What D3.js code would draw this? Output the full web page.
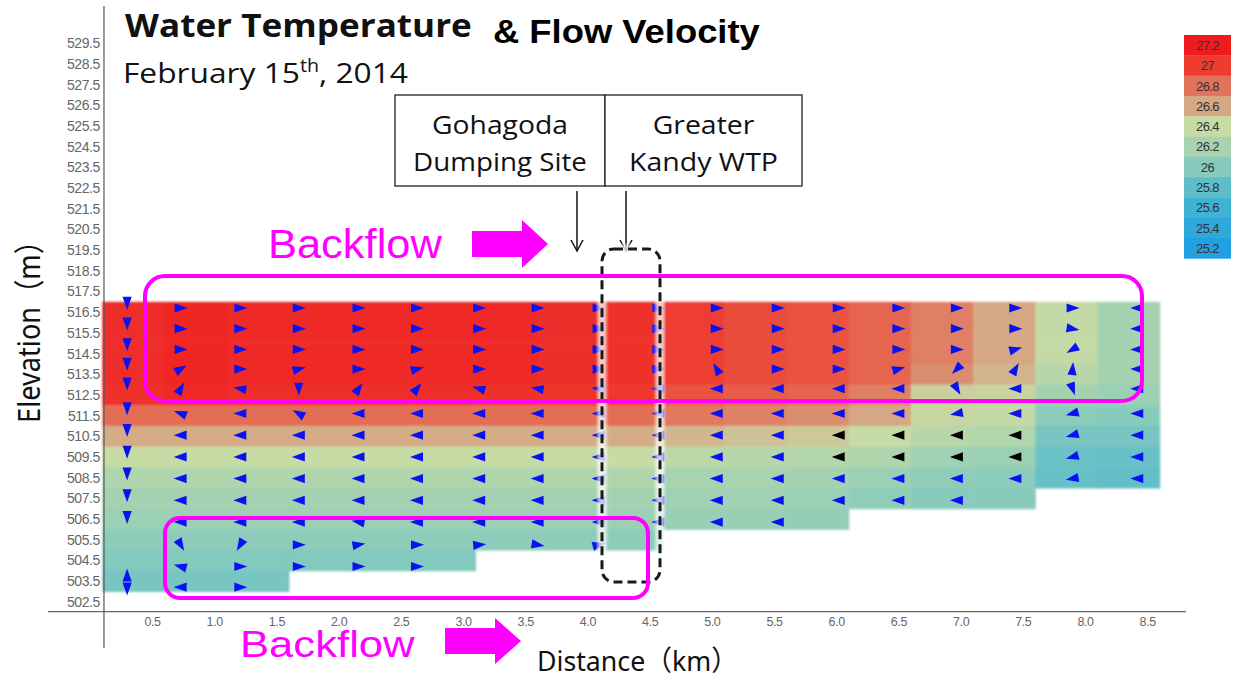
<!DOCTYPE html>
<html><head><meta charset="utf-8">
<script src="https://cdn.jsdelivr.net/npm/d3@7"></script>
<style>
html,body{margin:0;padding:0;background:#fff;}
svg{display:block;}
</style></head><body>
<svg id="chart" width="1233" height="679"></svg>
<script>
// Temperature legend stops (°C) and colours
const legendValues = [27.2, 27.0, 26.8, 26.6, 26.4, 26.2, 26.0, 25.8, 25.6, 25.4, 25.2];
const legendColors = ["#ef1b1f","#ee3d30","#e2735a","#d5a784","#c7dba5","#a7d3af","#88cbbc","#5fbdca","#40b3d5","#2fa9dc","#21a1e2"];

// Cross-section grid: 0.5 km columns starting at these distances, 1 m rows (top elevation)
const colStartKm = [0.1,0.6,1.1,1.6,2.1,2.6,3.1,3.6,4.1,4.6,5.1,5.6,6.1,6.6,7.1,7.6,8.1];
const rowTopElev = [517,516,515,514,513,512,511,510,509,508,507,506,505,504];

// Water temperature per cell (rows top→bottom, columns upstream→downstream); null = river bed
const temperature = [
  [27.08,27.14,27.10,27.10,27.10,27.10,27.10,27.08,27.06,27.00,26.95,26.92,26.85,26.75,26.60,26.38,26.18],
  [27.08,27.14,27.10,27.10,27.10,27.10,27.10,27.08,27.06,27.00,26.95,26.92,26.85,26.75,26.60,26.38,26.18],
  [27.08,27.14,27.10,27.10,27.10,27.10,27.10,27.08,27.06,27.00,26.95,26.92,26.85,26.75,26.60,26.38,26.18],
  [27.08,27.14,27.10,27.10,27.10,27.10,27.10,27.08,27.06,27.00,26.95,26.92,26.85,26.70,26.55,26.30,26.18],
  [27.06,27.10,27.08,27.08,27.08,27.08,27.06,27.05,27.03,26.92,26.88,26.85,26.75,26.45,26.43,26.18,26.12],
  [26.82,26.82,26.82,26.82,26.82,26.82,26.82,26.82,26.82,26.78,26.74,26.70,26.60,26.42,26.38,26.02,26.00],
  [26.58,26.58,26.58,26.58,26.58,26.58,26.58,26.58,26.58,26.54,26.50,26.47,26.40,26.30,26.27,25.92,25.92],
  [26.40,26.40,26.40,26.40,26.40,26.40,26.40,26.40,26.40,26.33,26.30,26.28,26.25,26.15,26.12,25.86,25.84],
  [26.25,26.25,26.25,26.25,26.25,26.25,26.25,26.25,26.25,26.20,26.20,26.18,26.12,26.05,26.02,25.84,25.82],
  [26.18,26.18,26.18,26.18,26.18,26.18,26.18,26.18,26.18,26.15,26.15,26.13,26.05,26.00,26.00,null,null],
  [26.12,26.12,26.12,26.12,26.12,26.12,26.12,26.12,26.12,26.10,26.10,26.08,null,null,null,null,null],
  [26.03,26.03,26.03,26.03,26.03,26.03,26.03,26.03,26.03,null,null,null,null,null,null,null,null],
  [25.97,25.97,25.97,25.97,25.97,25.97,null,null,null,null,null,null,null,null,null,null,null],
  [25.92,25.92,25.92,null,null,null,null,null,null,null,null,null,null,null,null,null,null]
];

// Velocity sampling nodes
const arrowKm = [0.30,0.73,1.21,1.68,2.16,2.63,3.13,3.60,4.09,4.57,5.04,5.53,6.02,6.50,6.97,7.44,7.90,8.42];
const arrowElev = [516.7,515.7,514.7,513.75,512.8,511.6,510.55,509.5,508.45,507.4,506.35,505.25,504.2,503.2];
// The near-bank profile is sampled a little higher than the rest
const bankElevShift = 0.25;
// Flow direction at each node, degrees clockwise from downstream; null = no vector, "ud" = up/down pair
const arrowAngle = [
  [90,0,0,0,0,0,0,0,0,0,0,0,0,0,0,0,0,180],
  [90,0,0,0,0,0,0,0,0,0,0,0,0,0,0,0,10,180],
  [90,0,0,0,0,0,0,0,0,0,0,0,0,0,0,345,150,180],
  [90,330,0,345,0,345,0,0,0,0,240,0,0,345,135,300,275,180],
  [90,300,190,90,305,310,195,190,185,180,180,180,180,180,60,180,70,180],
  [90,200,180,210,180,180,180,180,180,180,180,180,180,180,170,180,165,180],
  [90,180,180,180,180,180,180,180,180,180,180,180,180,180,180,180,165,180],
  [90,180,180,180,180,180,180,180,180,180,180,180,180,180,180,180,165,180],
  [90,180,180,180,180,180,180,180,180,180,180,180,180,180,180,180,170,180],
  [90,180,180,180,180,180,180,180,180,180,180,180,180,180,180,null,null,null],
  [90,180,180,180,190,180,180,180,180,180,180,180,null,null,null,null,null,null],
  [null,60,120,0,350,0,355,10,345,null,null,null,null,null,null,null,null,null],
  [null,195,0,0,0,0,null,null,null,null,null,null,null,null,null,null,null,null],
  ["ud",180,0,null,null,null,null,null,null,null,null,null,null,null,null,null,null,null]
];
// Nodes drawn in black [column, row]
const blackArrows = [[12,6],[13,6],[14,6],[15,6],[12,7],[13,7],[14,7],[15,7]];

const yTicks = [502.5,503.5,504.5,505.5,506.5,507.5,508.5,509.5,510.5,511.5,512.5,513.5,514.5,515.5,516.5,517.5,518.5,519.5,520.5,521.5,522.5,523.5,524.5,525.5,526.5,527.5,528.5,529.5];
const xTicks = [0.5,1.0,1.5,2.0,2.5,3.0,3.5,4.0,4.5,5.0,5.5,6.0,6.5,7.0,7.5,8.0,8.5];

const svg = d3.select("#chart");
const x = d3.scaleLinear().domain([0, 9]).range([89.8, 1209.4]);
const y = d3.scaleLinear().domain([502, 530]).range([612, 33]);
const color = d3.scaleLinear().domain(legendValues).range(legendColors).clamp(true);

const defs = svg.append("defs");
defs.append("filter").attr("id", "soft").attr("x", "-2%").attr("y", "-2%").attr("width", "104%").attr("height", "104%")
  .append("feGaussianBlur").attr("stdDeviation", 0.9);
defs.append("filter").attr("id", "halo")
  .append("feGaussianBlur").attr("stdDeviation", 1.6);

// Temperature cells
const cells = [];
temperature.forEach((row, r) => row.forEach((t, c) => {
  if (t !== null) cells.push({ c, r, t });
}));
svg.append("g").attr("filter", "url(#soft)")
  .selectAll("rect").data(cells).join("rect")
  .attr("x", d => x(colStartKm[d.c]))
  .attr("width", d => x(colStartKm[d.c] + 0.5) - x(colStartKm[d.c]) + 0.6)
  .attr("y", d => y(rowTopElev[d.r]))
  .attr("height", d => y(rowTopElev[d.r] - 1) - y(rowTopElev[d.r]) + 0.6)
  .attr("fill", d => color(d.t));

// Axes
const gy = svg.append("g").attr("transform", `translate(${x(0.114)},0)`)
  .call(d3.axisLeft(y).tickValues(yTicks).tickSize(0).tickPadding(4).tickFormat(d3.format(".1f")));
gy.select(".domain").remove();
gy.selectAll("text").attr("font-family", "Liberation Sans, Arial, sans-serif").attr("font-size", 14)
  .attr("fill", "#666").attr("letter-spacing", "-0.4");

const gx = svg.append("g").attr("transform", `translate(0,${y(502.02)})`)
  .call(d3.axisBottom(x).tickValues(xTicks).tickSize(0).tickPadding(6).tickFormat(d3.format(".1f")));
gx.select(".domain").remove();
gx.selectAll("text").attr("font-family", "Liberation Sans, Arial, sans-serif").attr("font-size", 12.5)
  .attr("fill", "#666").attr("letter-spacing", "-0.4");

svg.append("line").attr("x1", x(0.114)).attr("x2", x(0.114)).attr("y1", 6).attr("y2", 648)
  .attr("stroke", "#555").attr("stroke-width", 1.2);
svg.append("line").attr("x1", 48).attr("x2", 1186).attr("y1", y(502.02)).attr("y2", y(502.02))
  .attr("stroke", "#666").attr("stroke-width", 1.2);

// Velocity vectors
const black = new Set(blackArrows.map(d => d[0] + "," + d[1]));
const tri = "M7,0 L-6,-4.6 L-6,4.6 Z";
const arrows = [];
arrowAngle.forEach((row, r) => row.forEach((a, c) => {
  if (a === null) return;
  if (a === "ud") {
    arrows.push({ c, r, a: 270, dy: -6.5 });
    arrows.push({ c, r, a: 90, dy: 6.5 });
  } else arrows.push({ c, r, a, dy: 0 });
}));
svg.append("g").selectAll("path").data(arrows).join("path")
  .attr("d", tri)
  .attr("transform", d => {
    const e = arrowElev[d.r] + (d.c === 0 ? bankElevShift : 0);
    return `translate(${x(arrowKm[d.c])},${y(e) + d.dy}) rotate(${d.a})`;
  })
  .attr("fill", d => black.has(d.c + "," + d.r) ? "#000" : "#0b12f2");

// Legend
const lg = svg.append("g").attr("transform", "translate(1184,35)");
const lh = 20.3;
lg.selectAll("rect").data(legendValues).join("rect")
  .attr("x", 0).attr("y", (d, i) => i * lh).attr("width", 47).attr("height", lh + 0.4)
  .attr("fill", (d, i) => legendColors[i]);
lg.selectAll("text").data(legendValues).join("text")
  .attr("x", 23.5).attr("y", (d, i) => i * lh + lh / 2 + 4.8)
  .attr("text-anchor", "middle").attr("font-family", "Liberation Sans, Arial, sans-serif")
  .attr("font-size", 13).attr("fill", "#333").attr("letter-spacing", "-0.6")
  .text(d => d3.format("~f")(d));

// helper: stretch a text horizontally about its anchor so it spans a given width
function fitX(sel, w) {
  const bb = sel.node().getBBox();
  const sx = w / bb.width;
  const ax = parseFloat(sel.attr("x"));
  sel.attr("transform", `translate(${ax},0) scale(${sx},1) translate(${-ax},0)`);
  return sel;
}

// Titles
fitX(svg.append("text").attr("x", 125).attr("y", 37).attr("font-family", "Open Sans, sans-serif")
  .attr("font-weight", 700).attr("font-size", 33).attr("fill", "#111").text("Water Temperature"), 347);
fitX(svg.append("text").attr("x", 493).attr("y", 43).attr("font-family", "Liberation Sans, Arial, sans-serif")
  .attr("font-weight", 700).attr("font-size", 34).attr("fill", "#000").text("& Flow Velocity"), 267);
const sub = svg.append("text").attr("x", 123).attr("y", 83).attr("font-family", "Open Sans, sans-serif")
  .attr("font-size", 28).attr("fill", "#111");
sub.append("tspan").text("February 15");
sub.append("tspan").attr("font-size", "0.62em").attr("dy", -11).text("th");
sub.append("tspan").attr("dy", 11).text(", 2014");
fitX(sub, 285);

// Site boxes
const boxes = [
  { x0: 395, x1: 605, lines: ["Gohagoda", "Dumping Site"], widths: [136, 174] },
  { x0: 605, x1: 802, lines: ["Greater", "Kandy WTP"], widths: [102, 149] }
];
boxes.forEach(b => {
  svg.append("rect").attr("x", b.x0).attr("y", 95).attr("width", b.x1 - b.x0).attr("height", 91)
    .attr("fill", "#fff").attr("stroke", "#222").attr("stroke-width", 1.3);
  b.lines.forEach((s, i) => {
    fitX(svg.append("text").attr("x", (b.x0 + b.x1) / 2).attr("y", 134 + i * 37).attr("text-anchor", "middle")
      .attr("font-family", "Open Sans, sans-serif").attr("font-size", 26).attr("fill", "#111").text(s), b.widths[i]);
  });
});

// Pointers from the boxes to the river
[577, 626].forEach(px => {
  svg.append("line").attr("x1", px).attr("x2", px).attr("y1", 191).attr("y2", 250)
    .attr("stroke", "#111").attr("stroke-width", 1.5);
  svg.append("path").attr("d", `M${px - 6},${240} L${px},${251} L${px + 6},${240}`)
    .attr("fill", "none").attr("stroke", "#111").attr("stroke-width", 1.5);
});

// Dashed outline around the intake reach
svg.append("rect").attr("x", 602).attr("y", 249).attr("width", 58).attr("height", 333).attr("rx", 12)
  .attr("fill", "none").attr("stroke", "#fff").attr("stroke-width", 9).attr("opacity", 0.75).attr("filter", "url(#halo)");
svg.append("rect").attr("x", 602).attr("y", 249).attr("width", 58).attr("height", 333).attr("rx", 12)
  .attr("fill", "none").attr("stroke", "#1a1a1a").attr("stroke-width", 3).attr("stroke-dasharray", "9,5");

// Backflow zones
const magenta = "#ff00ff";
svg.append("rect").attr("x", 145).attr("y", 276).attr("width", 997).attr("height", 125).attr("rx", 20)
  .attr("fill", "none").attr("stroke", magenta).attr("stroke-width", 4);
svg.append("rect").attr("x", 165).attr("y", 518).attr("width", 483).attr("height", 80).attr("rx", 15)
  .attr("fill", "none").attr("stroke", magenta).attr("stroke-width", 4);

fitX(svg.append("text").attr("x", 268).attr("y", 258).attr("font-family", "Liberation Sans, Arial, sans-serif")
  .attr("font-size", 40).attr("fill", magenta).text("Backflow"), 174);
fitX(svg.append("text").attr("x", 240).attr("y", 657).attr("font-family", "Liberation Sans, Arial, sans-serif")
  .attr("font-size", 37).attr("fill", magenta).text("Backflow"), 175);

function blockArrow(x0, x1, cy, shaftH, headH, headW) {
  const xs = x1 - headW;
  return `M${x0},${cy - shaftH / 2} L${xs},${cy - shaftH / 2} L${xs},${cy - headH / 2} L${x1},${cy} ` +
    `L${xs},${cy + headH / 2} L${xs},${cy + shaftH / 2} L${x0},${cy + shaftH / 2} Z`;
}
svg.append("path").attr("d", blockArrow(472, 548, 244, 26, 48, 26)).attr("fill", magenta);
svg.append("path").attr("d", blockArrow(445, 521, 641, 26, 46, 26)).attr("fill", magenta);

// Axis titles
fitX(svg.append("text").attr("x", 537).attr("y", 671).attr("font-family", "Noto Sans, Noto Sans CJK JP, sans-serif")
  .attr("font-size", 28).attr("fill", "#111").text("Distance（km）"), 201);
const yl = svg.append("text").attr("x", 0).attr("y", 0).attr("text-anchor", "middle")
  .attr("font-family", "Noto Sans, Noto Sans CJK JP, sans-serif").attr("font-size", 31).attr("fill", "#111")
  .text("Elevation（m）");
const ylw = yl.node().getBBox().width;
yl.attr("transform", `translate(40,325) rotate(-90) scale(${196 / ylw},1)`);
</script>
</body></html>
